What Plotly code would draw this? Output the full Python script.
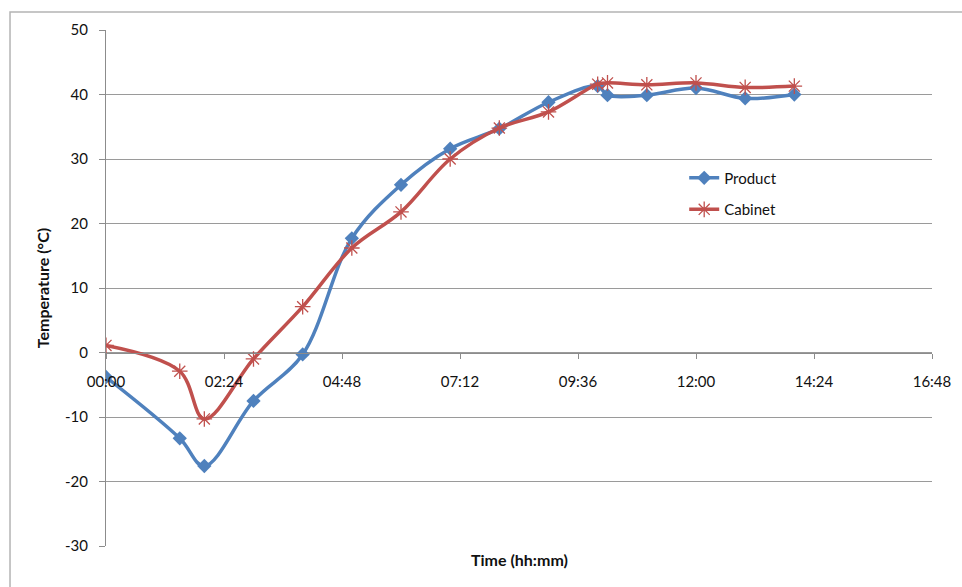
import plotly.graph_objects as go

# Sample times (hh:mm) and measured temperatures (°C)
times = ["00:00", "01:30", "02:00", "03:00", "04:00", "05:00", "06:00", "07:00",
         "08:00", "09:00", "10:00", "10:12", "11:00", "12:00", "13:00", "14:00"]
product = [-3.8, -13.3, -17.6, -7.5, -0.3, 17.7, 26.0, 31.6,
           34.7, 38.8, 41.3, 39.9, 39.9, 41.0, 39.4, 40.0]
cabinet = [1.1, -2.9, -10.3, -1.0, 7.1, 16.2, 21.8, 30.0,
           34.8, 37.3, 41.6, 41.8, 41.5, 41.8, 41.1, 41.3]

x_start, x_end = "00:00", "16:48"
tick_step_min = 144
y_ticks = [-30, -20, -10, 0, 10, 20, 30, 40, 50]
y_tick_labels = ["-30", "-20", "-10", "0", "10", "20", "30", "40", "50"]

DAY = "2000-01-01 "
xs = [DAY + t for t in times]

FONT = "Lato"
TXT = "#111111"
GRID = "#9a9a9a"
AX = "#8c8c8c"

fig = go.Figure()
fig.add_trace(go.Scatter(
    x=xs, y=product, name="Product", mode="lines+markers",
    line=dict(color="#4F81BD", width=3.5, shape="spline", smoothing=1.0),
    marker=dict(symbol="diamond", size=11, color="#4F81BD"),
    legendgroup="p",
))
fig.add_trace(go.Scatter(
    x=xs, y=cabinet, name="Cabinet", mode="lines+markers",
    line=dict(color="#C0504D", width=3.5, shape="spline", smoothing=1.0),
    marker=dict(symbol="asterisk-open", size=13,
                line=dict(color="#D07A78", width=1.3)),
    legendgroup="c",
))

y_min, y_max = y_ticks[0], y_ticks[-1]
# the time axis crosses the temperature axis at 0 °C
cross = (0 - y_min) / (y_max - y_min)

fig.update_layout(
    width=962, height=587,
    margin=dict(l=106, r=30, t=30, b=41),
    paper_bgcolor="white", plot_bgcolor="white",
    font=dict(family=FONT, size=15, color=TXT),
    showlegend=True,
    legend=dict(x=0.70, y=0.745, xanchor="left", yanchor="top",
                bgcolor="rgba(0,0,0,0)", tracegroupgap=9,
                font=dict(family=FONT, size=15, color=TXT)),
    xaxis=dict(
        type="date",
        range=[DAY + x_start, DAY + x_end],
        tick0=DAY + x_start, dtick=tick_step_min * 60 * 1000,
        tickformat="%H:%M",
        anchor="free", position=cross,
        showgrid=False, zeroline=False,
        showline=True, linecolor=AX, linewidth=1,
        ticks="outside", ticklen=5, tickcolor=AX,
        ticklabelstandoff=10,
        tickfont=dict(family=FONT, size=15, color=TXT),
    ),
    yaxis=dict(
        range=[y_min, y_max],
        tickmode="array", tickvals=y_ticks, ticktext=y_tick_labels,
        showgrid=True, gridcolor=GRID, gridwidth=1,
        zeroline=False,
        showline=True, linecolor=AX, linewidth=1,
        ticks="outside", ticklen=6, tickcolor=AX,
        ticklabelstandoff=8,
        tickfont=dict(family=FONT, size=15, color=TXT),
        title=dict(text="<b>Temperature (°C)</b>", standoff=11,
                   font=dict(family=FONT, size=16, color=TXT)),
    ),
    annotations=[dict(
        text="<b>Time (hh:mm)</b>", xref="paper", yref="paper",
        x=0.5, y=-0.027, xanchor="center", yanchor="middle",
        showarrow=False, font=dict(family=FONT, size=16, color=TXT),
    )],
    shapes=[dict(
        type="rect", xref="paper", yref="paper",
        x0=-0.1162, y0=-0.3, x1=1.3, y1=1.0349,
        line=dict(color="#b4b4b4", width=1.5), layer="below",
    )],
)

fig.write_html("out.html")
